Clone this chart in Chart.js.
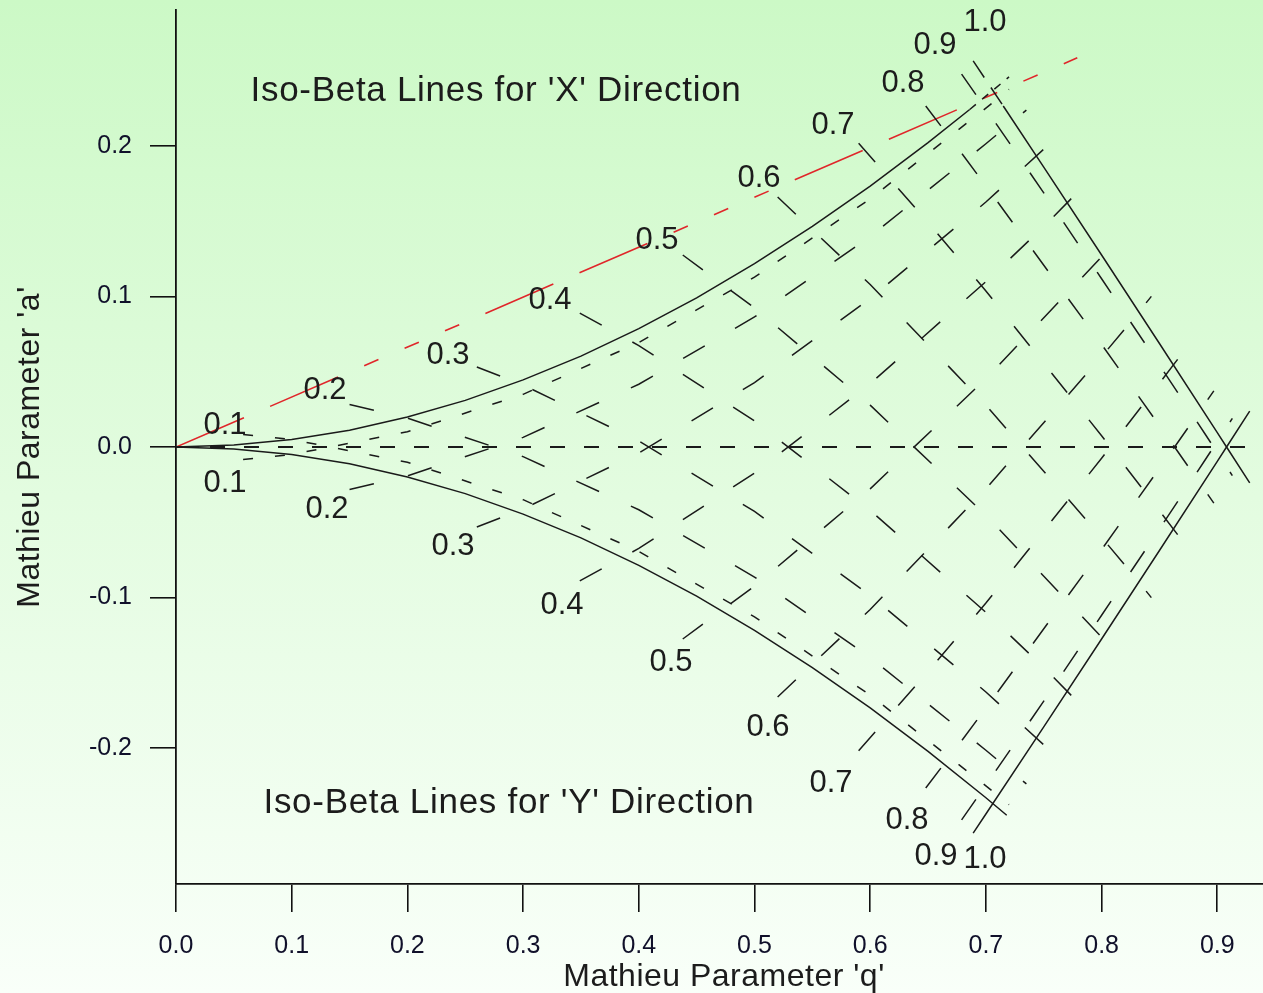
<!DOCTYPE html>
<html>
<head>
<meta charset="utf-8">
<script src="https://cdn.jsdelivr.net/npm/chart.js@4.4.1/dist/chart.umd.min.js"></script>
<style>
  html, body { margin: 0; padding: 0; background: #ffffff; }
  canvas { display: block; }
</style>
</head>
<body>
<canvas id="chart" width="1263" height="993"></canvas>
<script>
// Axis ticks
const xTicks = [0, 0.1, 0.2, 0.3, 0.4, 0.5, 0.6, 0.7, 0.8, 0.9];
const yTicks = [-0.2, -0.1, 0, 0.1, 0.2];

// Stability boundaries (q, a)
const upperEdgeQ = [0, 0.05, 0.1, 0.15, 0.2, 0.25, 0.3, 0.35, 0.4, 0.45, 0.5, 0.55, 0.6, 0.65, 0.686];
const upperEdgeA = [0, 0.00125, 0.005, 0.0112, 0.0199, 0.0310, 0.0446, 0.0604, 0.0787, 0.0991, 0.1218, 0.1466, 0.1734, 0.2023, 0.2243];
const upperTipQ = [0.686, 0.706, 0.72];
const upperTipA = [0.2243, 0.2370, 0.2460];
const lowerEdgeQ = [0, 0.05, 0.1, 0.15, 0.2, 0.25, 0.3, 0.35, 0.4, 0.45, 0.5, 0.55, 0.6, 0.65, 0.7, 0.718];
const lowerEdgeA = [0, -0.00125, -0.005, -0.0112, -0.0199, -0.0310, -0.0446, -0.0604, -0.0787, -0.0991, -0.1218, -0.1466, -0.1734, -0.2023, -0.2331, -0.2447];
const rightUpperQ = [0.715, 0.75, 0.8, 0.85, 0.9, 0.908, 0.928];
const rightUpperA = [0.2266, 0.1860, 0.1276, 0.0688, 0.0095, 0.0, -0.0238];
const rightTipQ = [0.689, 0.70, 0.715];
const rightTipA = [0.2566, 0.2439, 0.2266];
const rightLowerQ = [0.689, 0.70, 0.75, 0.8, 0.85, 0.9, 0.908, 0.928];
const rightLowerA = [-0.2566, -0.2439, -0.1860, -0.1276, -0.0688, -0.0095, 0.0, 0.0238];

// Scan line and a = 0 axis line
const scanQ = [0, 0.779];
const scanA = [0, 0.2586];
const zeroQ = [0, 0.9395];
const zeroA = [0, 0];

// Iso-beta lines, X direction (beta = 0.1 ... 0.9)
const isoXQ = [
  [0.058, 0.1, 0.2, 0.3, 0.4, 0.5, 0.6, 0.7, 0.72],
  [0.15, 0.2, 0.3, 0.4, 0.5, 0.6, 0.7, 0.735],
  [0.26, 0.3, 0.4, 0.5, 0.6, 0.7, 0.755],
  [0.349, 0.4, 0.5, 0.6, 0.7, 0.75, 0.782],
  [0.438, 0.5, 0.6, 0.7, 0.8, 0.812],
  [0.52, 0.6, 0.7, 0.8, 0.83, 0.843],
  [0.59, 0.65, 0.7, 0.8, 0.85, 0.873],
  [0.648, 0.68, 0.7, 0.8, 0.86, 0.897],
  [0.679, 0.7, 0.75, 0.8, 0.85, 0.89, 0.913]
];
const isoXA = [
  [0.0083, 0.0050, -0.0101, -0.0350, -0.0694, -0.1129, -0.1649, -0.2252, -0.2377],
  [0.0283, 0.0192, -0.0064, -0.0417, -0.0864, -0.1399, -0.2015, -0.2239],
  [0.0532, 0.0412, 0.0040, -0.0428, -0.0986, -0.1628, -0.2014],
  [0.0890, 0.0674, 0.0173, -0.0421, -0.1099, -0.1465, -0.1715],
  [0.1276, 0.0924, 0.0278, -0.0454, -0.1263, -0.1365],
  [0.1661, 0.1080, 0.0277, -0.0600, -0.0876, -0.1001],
  [0.2018, 0.1493, 0.1037, 0.0075, -0.0424, -0.0656],
  [0.2266, 0.1942, 0.1735, 0.0682, 0.0034, -0.0373],
  [0.2478, 0.2247, 0.1689, 0.1118, 0.0545, 0.0080, -0.0190]
];

// Iso-beta lines, Y direction (beta = 0.1 ... 0.9)
const isoYQ = [
  [0.058, 0.1, 0.2, 0.3, 0.4, 0.5, 0.6, 0.7, 0.72],
  [0.15, 0.2, 0.3, 0.4, 0.5, 0.6, 0.7, 0.735],
  [0.26, 0.3, 0.4, 0.5, 0.6, 0.7, 0.755],
  [0.349, 0.4, 0.5, 0.6, 0.7, 0.75, 0.782],
  [0.438, 0.5, 0.6, 0.7, 0.8, 0.812],
  [0.52, 0.6, 0.7, 0.8, 0.83, 0.843],
  [0.59, 0.65, 0.7, 0.8, 0.85, 0.873],
  [0.648, 0.68, 0.7, 0.8, 0.86, 0.897],
  [0.679, 0.7, 0.75, 0.8, 0.85, 0.89, 0.913]
];
const isoYA = [
  [-0.0083, -0.0050, 0.0101, 0.0350, 0.0694, 0.1129, 0.1649, 0.2252, 0.2377],
  [-0.0283, -0.0192, 0.0064, 0.0417, 0.0864, 0.1399, 0.2015, 0.2239],
  [-0.0532, -0.0412, -0.0040, 0.0428, 0.0986, 0.1628, 0.2014],
  [-0.0890, -0.0674, -0.0173, 0.0421, 0.1099, 0.1465, 0.1715],
  [-0.1276, -0.0924, -0.0278, 0.0454, 0.1263, 0.1365],
  [-0.1661, -0.1080, -0.0277, 0.0600, 0.0876, 0.1001],
  [-0.2018, -0.1493, -0.1037, -0.0075, 0.0424, 0.0656],
  [-0.2266, -0.1942, -0.1735, -0.0682, -0.0034, 0.0373],
  [-0.2478, -0.2247, -0.1689, -0.1118, -0.0545, -0.0080, 0.0190]
];

// Beta value labels
const betaText = ['0.1', '0.2', '0.3', '0.4', '0.5', '0.6', '0.7', '0.8', '0.9', '1.0'];
const labelXDir = {
  q: [0.0424, 0.1288, 0.2351, 0.3232, 0.4157, 0.5039, 0.5678, 0.6283, 0.6560, 0.6992],
  a: [0.0146, 0.0379, 0.0611, 0.0977, 0.1375, 0.1787, 0.2140, 0.2419, 0.2671, 0.2824]
};
const labelYDir = {
  q: [0.0424, 0.1305, 0.2394, 0.3336, 0.4278, 0.5117, 0.5661, 0.6318, 0.6569, 0.6992],
  a: [-0.0239, -0.0412, -0.0658, -0.1056, -0.1429, -0.1867, -0.2233, -0.2485, -0.2724, -0.2744]
};
const headings = [
  { text: "Iso-Beta Lines for 'X' Direction", q: 0.2766, a: 0.2365 },
  { text: "Iso-Beta Lines for 'Y' Direction", q: 0.2878, a: -0.2365 }
];

const pts = (qs, as) => qs.map((q, i) => ({ x: q, y: as[i] }));

const INK = '#1a1a1a';
// first iso line of each family is drawn with a shorter dash
const isoDash = i => (i === 0 ? [10, 22] : [25, 35]);

function lineSet(qs, as, opts) {
  return Object.assign({
    data: pts(qs, as),
    showLine: true,
    pointRadius: 0,
    pointHoverRadius: 0,
    borderColor: INK,
    borderWidth: 1.5,
    fill: false,
    tension: 0
  }, opts || {});
}

const datasets = [];
datasets.push(lineSet(zeroQ, zeroA, { borderDash: [15, 19], borderWidth: 2 }));
isoXQ.forEach((qs, i) => datasets.push(lineSet(qs, isoXA[i], { borderDash: isoDash(i) })));
isoYQ.forEach((qs, i) => datasets.push(lineSet(qs, isoYA[i], { borderDash: isoDash(i) })));
datasets.push(lineSet(upperEdgeQ, upperEdgeA));
datasets.push(lineSet(upperTipQ, upperTipA, { borderDash: [8, 8] }));
datasets.push(lineSet(lowerEdgeQ, lowerEdgeA));
datasets.push(lineSet(rightTipQ, rightTipA, { borderDash: [20, 12] }));
datasets.push(lineSet(rightUpperQ, rightUpperA));
datasets.push(lineSet(rightLowerQ, rightLowerA));
datasets.push(lineSet(scanQ, scanA, {
  borderColor: '#e0262a',
  borderWidth: 1.6,
  borderDash: [74, 28.5, 74, 28.5, 15.5, 28.5, 15.5, 28.5, 15.5, 28.5]
}));

const backdrop = {
  id: 'backdrop',
  beforeDraw(chart) {
    const { ctx, width, height } = chart;
    const g = ctx.createLinearGradient(0, 0, 0, height);
    g.addColorStop(0, '#ccf9c6');
    g.addColorStop(0.5, '#e3fce0');
    g.addColorStop(1, '#f9fff9');
    ctx.save();
    ctx.fillStyle = g;
    ctx.fillRect(0, 0, width, height);
    ctx.restore();
  }
};

const annotations = {
  id: 'annotations',
  afterDraw(chart) {
    const { ctx } = chart;
    const xs = chart.scales.x, ys = chart.scales.y;
    ctx.save();
    ctx.fillStyle = '#1c1c1c';
    ctx.textAlign = 'center';
    ctx.textBaseline = 'middle';
    ctx.font = '31px "Liberation Sans", Arial, sans-serif';
    betaText.forEach((t, i) => {
      ctx.fillText(t, xs.getPixelForValue(labelXDir.q[i]), ys.getPixelForValue(labelXDir.a[i]));
      ctx.fillText(t, xs.getPixelForValue(labelYDir.q[i]), ys.getPixelForValue(labelYDir.a[i]));
    });
    ctx.font = '35px "Liberation Sans", Arial, sans-serif';
    ctx.letterSpacing = '0.7px';
    headings.forEach(h => {
      ctx.fillText(h.text, xs.getPixelForValue(h.q), ys.getPixelForValue(h.a));
    });
    // Axis titles
    ctx.font = '32px "Liberation Sans", Arial, sans-serif';
    ctx.letterSpacing = '0.5px';
    ctx.fillText("Mathieu Parameter 'q'", 724, 977);
    ctx.translate(30, 447);
    ctx.rotate(-Math.PI / 2);
    ctx.fillText("Mathieu Parameter 'a'", 0, 0);
    ctx.restore();
  }
};

const tickFont = { family: '"Liberation Sans", Arial, sans-serif', size: 25 };

new Chart(document.getElementById('chart'), {
  type: 'scatter',
  data: { datasets },
  options: {
    responsive: false,
    animation: false,
    devicePixelRatio: 1,
    layout: { padding: { top: 10, left: 0, right: 0, bottom: 0 } },
    plugins: { legend: { display: false }, tooltip: { enabled: false } },
    events: [],
    scales: {
      x: {
        type: 'linear',
        min: 0,
        max: 0.9395,
        afterBuildTicks: s => { s.ticks = xTicks.map(v => ({ value: v })); },
        afterFit: s => { s.height = 109; s.paddingLeft = 0; s.paddingRight = 0; },
        ticks: {
          callback: v => Number(v).toFixed(1),
          font: tickFont,
          color: '#10102a',
          padding: 19,
          maxRotation: 0,
          autoSkip: false
        },
        grid: { drawOnChartArea: false, drawTicks: true, tickLength: 28, color: '#111', lineWidth: 1.6 },
        border: { display: true, color: '#111', width: 1.8 }
      },
      y: {
        type: 'linear',
        min: -0.2904,
        max: 0.2904,
        afterBuildTicks: s => { s.ticks = yTicks.map(v => ({ value: v })); },
        afterFit: s => { s.width = 176; s.paddingTop = 0; s.paddingBottom = 0; },
        ticks: {
          callback: v => Number(v).toFixed(1),
          font: tickFont,
          color: '#10102a',
          padding: 18,
          autoSkip: false
        },
        grid: { drawOnChartArea: false, drawTicks: true, tickLength: 26, color: '#111', lineWidth: 1.6 },
        border: { display: true, color: '#111', width: 1.8 }
      }
    }
  },
  plugins: [backdrop, annotations]
});
</script>
</body>
</html>
